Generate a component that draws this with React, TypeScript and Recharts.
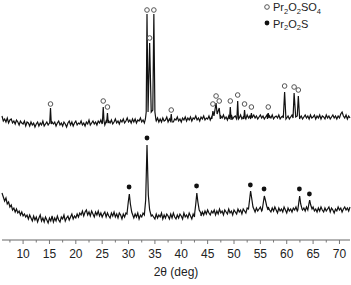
import React from "react";
import { ComposedChart, Line, Scatter, XAxis, YAxis } from "recharts";

// 2θ sampling grid of the background (deg)
const gridTheta = [
  6, 6.25, 6.5, 6.75, 7, 7.25, 7.5, 7.75, 8, 8.25, 8.5, 8.75, 9, 9.25, 9.5, 9.75, 10, 10.25, 10.5, 10.75,
  11, 11.25, 11.5, 11.75, 12, 12.25, 12.5, 12.75, 13, 13.25, 13.5, 13.75, 14, 14.25, 14.5, 14.75, 15, 15.25, 15.5, 15.75,
  16, 16.25, 16.5, 16.75, 17, 17.25, 17.5, 17.75, 18, 18.25, 18.5, 18.75, 19, 19.25, 19.5, 19.75, 20, 20.25, 20.5, 20.75,
  21, 21.25, 21.5, 21.75, 22, 22.25, 22.5, 22.75, 23, 23.25, 23.5, 23.75, 24, 24.25, 24.5, 24.75, 25, 25.25, 25.5, 25.75,
  26, 26.25, 26.5, 26.75, 27, 27.25, 27.5, 27.75, 28, 28.25, 28.5, 28.75, 29, 29.25, 29.5, 29.75, 30, 30.25, 30.5, 30.75,
  31, 31.25, 31.5, 31.75, 32, 32.25, 32.5, 32.75, 33, 33.25, 33.5, 33.75, 34, 34.25, 34.5, 34.75, 35, 35.25, 35.5, 35.75,
  36, 36.25, 36.5, 36.75, 37, 37.25, 37.5, 37.75, 38, 38.25, 38.5, 38.75, 39, 39.25, 39.5, 39.75, 40, 40.25, 40.5, 40.75,
  41, 41.25, 41.5, 41.75, 42, 42.25, 42.5, 42.75, 43, 43.25, 43.5, 43.75, 44, 44.25, 44.5, 44.75, 45, 45.25, 45.5, 45.75,
  46, 46.25, 46.5, 46.75, 47, 47.25, 47.5, 47.75, 48, 48.25, 48.5, 48.75, 49, 49.25, 49.5, 49.75, 50, 50.25, 50.5, 50.75,
  51, 51.25, 51.5, 51.75, 52, 52.25, 52.5, 52.75, 53, 53.25, 53.5, 53.75, 54, 54.25, 54.5, 54.75, 55, 55.25, 55.5, 55.75,
  56, 56.25, 56.5, 56.75, 57, 57.25, 57.5, 57.75, 58, 58.25, 58.5, 58.75, 59, 59.25, 59.5, 59.75, 60, 60.25, 60.5, 60.75,
  61, 61.25, 61.5, 61.75, 62, 62.25, 62.5, 62.75, 63, 63.25, 63.5, 63.75, 64, 64.25, 64.5, 64.75, 65, 65.25, 65.5, 65.75,
  66, 66.25, 66.5, 66.75, 67, 67.25, 67.5, 67.75, 68, 68.25, 68.5, 68.75, 69, 69.25, 69.5, 69.75, 70, 70.25, 70.5, 70.75,
  71, 71.25, 71.5, 71.75, 72,
];

// upper pattern (Pr2O2SO4) background intensity, a.u.
const topBase = [
  124, 119, 121, 118, 122, 117, 120, 121, 117, 119, 116, 120, 118, 115, 119, 117, 116, 119, 114, 118,
  117, 114, 118, 115, 117, 113, 116, 118, 114, 117, 115, 119, 114, 116, 118, 115, 117, 114, 118, 116,
  118, 114, 117, 119, 115, 117, 114, 118, 116, 113, 117, 119, 115, 118, 114, 117, 119, 115, 117, 116,
  119, 115, 117, 114, 118, 116, 120, 115, 117, 119, 116, 118, 115, 119, 117, 120, 116, 118, 115, 119,
  116, 119, 117, 120, 116, 118, 121, 117, 119, 116, 120, 118, 121, 117, 119, 122, 118, 120, 117, 121,
  118, 121, 117, 120, 119, 122, 118, 120, 117, 121, 119, 122, 118, 121, 120, 117, 121, 119, 122, 118,
  121, 118, 122, 119, 120, 123, 118, 121, 119, 122, 118, 121, 120, 123, 119, 121, 118, 122, 120, 123,
  119, 122, 120, 123, 119, 122, 121, 124, 120, 122, 119, 123, 121, 124, 120, 122, 121, 124, 120, 123,
  121, 124, 122, 120, 123, 121, 124, 122, 125, 121, 123, 120, 124, 122, 125, 121, 123, 124, 121, 124,
  122, 125, 121, 123, 124, 121, 125, 122, 124, 120, 123, 125, 122, 124, 121, 123, 125, 122, 124, 121,
  123, 125, 121, 124, 122, 125, 121, 123, 124, 122, 125, 121, 123, 124, 121, 125, 122, 124, 121, 123,
  125, 122, 124, 121, 123, 125, 122, 124, 121, 123, 125, 122, 124, 121, 125, 122, 123, 125, 121, 124,
  122, 125, 121, 124, 123, 121, 125, 122, 124, 121, 123, 125, 122, 124, 121, 124, 122, 126, 128, 124,
  122, 125, 121, 124, 122,
];

// lower pattern (Pr2O2S) background intensity, a.u.
const bottomBase = [
  47, 43, 39, 42, 36, 38, 33, 35, 30, 32, 28, 31, 27, 29, 25, 28, 24, 26, 23, 25,
  21, 25, 22, 19, 24, 20, 23, 18, 22, 25, 19, 22, 18, 23, 20, 17, 22, 19, 24, 18,
  22, 19, 24, 20, 18, 23, 21, 25, 19, 22, 24, 20, 23, 26, 21, 24, 22, 26, 23, 27,
  25, 29, 24, 28, 30, 25, 28, 24, 29, 26, 23, 28, 25, 29, 24, 27, 23, 26, 28, 23,
  27, 24, 22, 27, 24, 28, 23, 26, 22, 27, 25, 21, 26, 23, 27, 24, 26, 22, 27, 23,
  22, 26, 23, 27, 21, 25, 23, 27, 22, 26, 24, 21, 26, 22, 25, 23, 21, 26, 22, 25,
  23, 27, 21, 25, 22, 26, 24, 21, 26, 22, 27, 23, 21, 25, 22, 26, 24, 21, 27, 23,
  25, 22, 27, 24, 21, 26, 23, 27, 25, 22, 26, 24, 28, 25, 29, 26, 30, 27, 25, 29,
  27, 30, 25, 29, 26, 31, 27, 29, 25, 30, 28, 26, 31, 27, 29, 25, 30, 28, 26, 31,
  28, 30, 26, 31, 29, 27, 32, 28, 30, 33, 29, 31, 28, 32, 29, 31, 33, 29, 32, 28,
  31, 29, 33, 30, 28, 32, 29, 33, 30, 27, 32, 29, 31, 28, 33, 30, 27, 32, 29, 31,
  28, 32, 30, 33, 29, 31, 28, 33, 30, 32, 29, 33, 31, 28, 32, 30, 33, 29, 31, 28,
  32, 29, 33, 30, 28, 32, 29, 31, 33, 28, 32, 30, 27, 31, 29, 33, 30, 32, 28, 31,
  33, 30, 32, 29, 33,
];

// diffraction peak profiles [2θ, intensity]
const topPeaks = [
  [[15.05, 117], [15.2, 132], [15.35, 116]],
  [[25.05, 118], [25.2, 133], [25.35, 119]],
  [[25.85, 118], [26.0, 127], [26.15, 117]],
  [[33.2, 121], [33.35, 128], [33.5, 226], [33.7, 128], [34.0, 197], [34.3, 128], [34.6, 130], [34.8, 226], [35.0, 128], [35.2, 120]],
  [[37.95, 119], [38.1, 126], [38.25, 118]],
  [[45.8, 121], [46.0, 129], [46.2, 124], [46.6, 137], [46.8, 126], [47.2, 132], [47.4, 121]],
  [[49.15, 121], [49.3, 133], [49.45, 120]],
  [[50.55, 122], [50.7, 139], [50.85, 121]],
  [[51.85, 121], [52.0, 130], [52.15, 122]],
  [[53.15, 121], [53.3, 127], [53.45, 122]],
  [[56.35, 121], [56.5, 127], [56.65, 122]],
  [[59.35, 122], [59.6, 148], [59.85, 121]],
  [[61.2, 122], [61.4, 147], [61.7, 123], [62.0, 124], [62.2, 144], [62.45, 121]],
];

const bottomPeaks = [
  [[29.7, 26], [29.95, 38], [30.15, 46], [30.35, 36], [30.6, 28], [30.8, 25]],
  [[33.0, 25], [33.25, 40], [33.5, 95], [33.75, 45], [34.0, 30], [34.3, 24]],
  [[42.55, 27], [42.75, 36], [42.95, 47], [43.15, 38], [43.4, 30], [43.7, 27]],
  [[52.75, 31], [52.95, 40], [53.15, 49], [53.35, 42], [53.6, 33], [53.85, 30]],
  [[55.35, 30], [55.55, 37], [55.75, 44], [55.95, 40], [56.2, 34], [56.45, 30]],
  [[62.1, 30], [62.3, 38], [62.45, 44], [62.65, 36], [62.9, 31]],
  [[64.0, 30], [64.2, 36], [64.35, 40], [64.55, 35], [64.8, 31]],
];

// phase markers [2θ, intensity]
const sulfateMarks = [
  [15.2, 136], [25.2, 139], [26.0, 133], [33.5, 230], [34.0, 202], [34.8, 230],
  [38.1, 130], [46.0, 136], [46.6, 144], [47.2, 139], [49.3, 139], [50.7, 145],
  [52.0, 136], [53.3, 133], [56.5, 133], [59.6, 154], [61.4, 153], [62.2, 150],
];
const oxysulfideMarks = [
  [30.1, 53], [33.5, 102], [42.9, 54], [53.1, 55], [55.7, 51], [62.4, 51], [64.3, 46],
];

const xTicks = [7.5, 10, 12.5, 15, 17.5, 20, 22.5, 25, 27.5, 30, 32.5, 35, 37.5, 40, 42.5, 45, 47.5, 50, 52.5, 55, 57.5, 60, 62.5, 65, 67.5, 70];
const majorTicks = [10, 15, 20, 25, 30, 35, 40, 45, 50, 55, 60, 65, 70];

const FONT = '"Liberation Sans", Arial, sans-serif';

function buildTrace(base: number[], peaks: number[][][]) {
  const spans = peaks.map((p) => [p[0][0], p[p.length - 1][0]]);
  const pts: { x: number; y: number }[] = [];
  const n = Math.min(gridTheta.length, base.length);
  for (let i = 0; i < n; i++) {
    const t = gridTheta[i];
    if (!spans.some(([a, b]) => t >= a && t <= b)) pts.push({ x: t, y: base[i] });
  }
  peaks.forEach((p) => p.forEach(([x, y]) => pts.push({ x, y })));
  return pts.sort((a, b) => a.x - b.x);
}

const topTrace = buildTrace(topBase, topPeaks);
const bottomTrace = buildTrace(bottomBase, bottomPeaks);
const sulfateData = sulfateMarks.map(([x, y]) => ({ x, y }));
const oxysulfideData = oxysulfideMarks.map(([x, y]) => ({ x, y }));

const AxisTick = ({ x, y, payload }: any) => {
  const major = majorTicks.includes(payload.value);
  return (
    <g>
      <line x1={x} x2={x} y1={y} y2={y + (major ? 4 : 2.5)} stroke="#777" strokeWidth={1} />
      {major && (
        <text x={x} y={y + 18} textAnchor="middle" fontSize={12} fontFamily={FONT} fill="#222">
          {payload.value}
        </text>
      )}
    </g>
  );
};

const OpenCircle = (p: any) => (
  <circle cx={p.cx} cy={p.cy} r={2.3} fill="#fff" stroke="#555" strokeWidth={1} />
);
const FilledCircle = (p: any) => <circle cx={p.cx} cy={p.cy} r={2.4} fill="#111" />;

const Sub = ({ children }: any) => (
  <tspan fontSize={7.5} dy={2.5}>
    {children}
  </tspan>
);

export default function App() {
  return (
    <div style={{ position: "absolute", left: 0, top: 0, width: 351, height: 285, background: "#fff" }}>
      <ComposedChart width={351} height={285} margin={{ top: 0, right: 1, bottom: 0, left: 2 }}>
        <XAxis
          type="number"
          dataKey="x"
          domain={[6, 72]}
          ticks={xTicks}
          interval={0}
          tickSize={0}
          tickMargin={0}
          tickLine={false}
          tick={<AxisTick />}
          axisLine={{ stroke: "#666", strokeWidth: 1 }}
          height={45}
          label={{ value: "2θ (deg)", position: "insideBottom", offset: 9, fontSize: 12, fontFamily: FONT, fill: "#222" }}
        />
        <YAxis type="number" dataKey="y" domain={[0, 240]} hide />
        <Line data={topTrace} dataKey="y" type="linear" stroke="#111" strokeWidth={1.2} dot={false} isAnimationActive={false} />
        <Line data={bottomTrace} dataKey="y" type="linear" stroke="#111" strokeWidth={1.2} dot={false} isAnimationActive={false} />
        <Scatter data={sulfateData} dataKey="y" shape={<OpenCircle />} isAnimationActive={false} />
        <Scatter data={oxysulfideData} dataKey="y" shape={<FilledCircle />} isAnimationActive={false} />
      </ComposedChart>
      <svg width={351} height={36} style={{ position: "absolute", left: 0, top: 0, pointerEvents: "none" }}>
        <circle cx={267} cy={7} r={2.3} fill="#fff" stroke="#555" strokeWidth={1} />
        <text x={273} y={11} fontSize={11} fontFamily={FONT} fill="#222">
          Pr<Sub>2</Sub>
          <tspan dy={-2.5}>O</tspan>
          <Sub>2</Sub>
          <tspan dy={-2.5}>SO</tspan>
          <Sub>4</Sub>
        </text>
        <circle cx={267} cy={23} r={2.4} fill="#111" />
        <text x={273} y={27.5} fontSize={11} fontFamily={FONT} fill="#222">
          Pr<Sub>2</Sub>
          <tspan dy={-2.5}>O</tspan>
          <Sub>2</Sub>
          <tspan dy={-2.5}>S</tspan>
        </text>
      </svg>
    </div>
  );
}
